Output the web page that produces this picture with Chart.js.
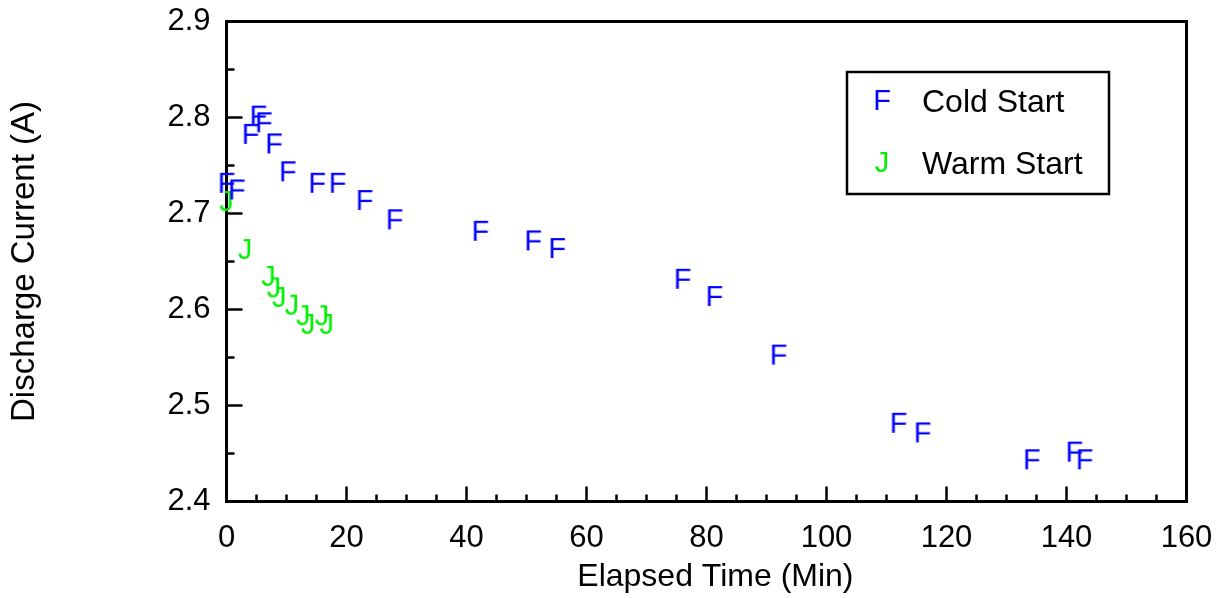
<!DOCTYPE html>
<html>
<head>
<meta charset="utf-8">
<script src="https://cdn.jsdelivr.net/npm/chart.js@4.4.1/dist/chart.umd.min.js"></script>
<style>
  html, body { margin: 0; padding: 0; background: #fff; }
</style>
</head>
<body>
<canvas id="myChart" width="1225" height="598"></canvas>
<script>
// Cold start run: elapsed time (min) / discharge current (A)
var coldTime = [0.0, 1.7, 4.0, 5.3, 6.2, 7.9, 10.2, 15.1, 18.5, 23.0, 28.0, 42.3, 51.1, 55.1, 76.0, 81.3, 92.0, 112.0, 116.0, 134.2, 141.3, 143.0];
var coldCurrent = [2.732, 2.725, 2.783, 2.802, 2.795, 2.773, 2.744, 2.732, 2.732, 2.714, 2.694, 2.682, 2.672, 2.664, 2.632, 2.614, 2.553, 2.482, 2.472, 2.444, 2.452, 2.444];

// Warm start run
var warmTime = [0.0, 3.1, 7.0, 7.9, 8.8, 10.9, 12.8, 13.6, 15.9, 16.7];
var warmCurrent = [2.713, 2.663, 2.635, 2.623, 2.613, 2.605, 2.594, 2.585, 2.594, 2.585];

var xTicks = [0, 20, 40, 60, 80, 100, 120, 140, 160];
var yTicks = [2.4, 2.5, 2.6, 2.7, 2.8, 2.9];

var FONT = '"Liberation Sans", Arial, Helvetica, sans-serif';
Chart.defaults.font.family = FONT;
Chart.defaults.color = '#000';

// letter markers (the plot used a symbol font, so markers show as F and J)
function glyph(ch, color) {
	var c = document.createElement('canvas');
	c.width = 36;
	c.height = 36;
	var g = c.getContext('2d');
	g.font = '29px ' + FONT;
	g.fillStyle = color;
	g.textAlign = 'center';
	g.textBaseline = 'alphabetic';
	g.fillText(ch, 18, 18 + 10.4);
	return c;
}
var coldMark = glyph('F', '#0000ff');
var warmMark = glyph('J', '#00f000');

function toPoints(xs, ys) {
	return xs.map(function(x, i) {
		return { x: x, y: ys[i] };
	});
}

// keep tick labels from pushing the plot area in
function noOverhang(s) {
	s.paddingTop = 0;
	s.paddingBottom = 0;
	s.paddingLeft = 0;
	s.paddingRight = 0;
}

// box round the plot + inward ticks
var framePlugin = {
	id: 'frame',
	beforeDatasetsDraw: function(chart) {
		var ctx = chart.ctx;
		var a = chart.chartArea;
		var xs = chart.scales.x, ys = chart.scales.y;
		ctx.save();
		ctx.strokeStyle = '#000';
		ctx.lineWidth = 2.5;
		ctx.beginPath();
		// y ticks, minor every half step
		for (var i = 0; i < yTicks.length; i++) {
			var py = ys.getPixelForValue(yTicks[i]);
			ctx.moveTo(a.left, py);
			ctx.lineTo(a.left + 16, py);
			if (i < yTicks.length - 1) {
				var my = ys.getPixelForValue((yTicks[i] + yTicks[i + 1]) / 2);
				ctx.moveTo(a.left, my);
				ctx.lineTo(a.left + 8, my);
			}
		}
		// x ticks, minor every quarter step
		for (var j = 0; j < xTicks.length; j++) {
			var px = xs.getPixelForValue(xTicks[j]);
			ctx.moveTo(px, a.bottom);
			ctx.lineTo(px, a.bottom - 15);
			if (j < xTicks.length - 1) {
				var step = (xTicks[j + 1] - xTicks[j]) / 4;
				for (var k = 1; k < 4; k++) {
					var mx = xs.getPixelForValue(xTicks[j] + step * k);
					ctx.moveTo(mx, a.bottom);
					ctx.lineTo(mx, a.bottom - 7);
				}
			}
		}
		ctx.stroke();
		ctx.lineWidth = 3;
		ctx.strokeRect(a.left, a.top, a.right - a.left, a.bottom - a.top);
		ctx.restore();
	}
};

// boxed legend, top right inside the plot
var legendPlugin = {
	id: 'boxLegend',
	afterDraw: function(chart) {
		var ctx = chart.ctx;
		var marks = [coldMark, warmMark];
		var rows = [100, 162];
		ctx.save();
		ctx.strokeStyle = '#000';
		ctx.lineWidth = 2.5;
		ctx.strokeRect(847, 72, 262, 122);
		ctx.font = '32px ' + FONT;
		ctx.fillStyle = '#000';
		ctx.textBaseline = 'alphabetic';
		chart.data.datasets.forEach(function(ds, i) {
			ctx.drawImage(marks[i], 882 - 18, rows[i] - 18);
			ctx.fillText(ds.label, 922, rows[i] + 11.5);
		});
		ctx.restore();
	}
};

var ctx = document.getElementById('myChart').getContext('2d');
var myChart = new Chart(ctx, {
	type: 'scatter',
	data: {
		datasets: [
			{
				label: 'Cold Start',
				data: toPoints(coldTime, coldCurrent),
				pointStyle: coldMark,
				clip: false
			},
			{
				label: 'Warm Start',
				data: toPoints(warmTime, warmCurrent),
				pointStyle: warmMark,
				clip: false
			}
		]
	},
	options: {
		responsive: false,
		animation: false,
		devicePixelRatio: 1,
		layout: {
			padding: { top: 21.5, right: 38.5, left: 0, bottom: 0 }
		},
		plugins: {
			legend: { display: false },
			tooltip: { enabled: false }
		},
		scales: {
			x: {
				type: 'linear',
				min: 0,
				max: 160,
				afterBuildTicks: function(s) {
					s.ticks = xTicks.map(function(v) { return { value: v }; });
				},
				afterFit: function(s) {
					s.height = 96.5;
					noOverhang(s);
				},
				grid: { display: false, drawTicks: false },
				border: { display: false },
				ticks: { padding: 18, font: { size: 31 }, maxRotation: 0, autoSkip: false },
				title: {
					display: true,
					text: '\u00a0\u00a0Elapsed Time (Min)',
					font: { size: 32 },
					padding: { top: 0, bottom: 2 }
				}
			},
			y: {
				min: 2.4,
				max: 2.9,
				afterBuildTicks: function(s) {
					s.ticks = yTicks.map(function(v) { return { value: v }; });
				},
				afterFit: function(s) {
					s.width = 226.5;
					noOverhang(s);
				},
				grid: { display: false, drawTicks: false },
				border: { display: false },
				ticks: {
					padding: 16,
					font: { size: 31 },
					autoSkip: false,
					callback: function(v) { return v.toFixed(1); }
				},
				title: {
					display: true,
					text: 'Discharge Current (A)',
					font: { size: 33 },
					padding: { top: 5, bottom: 0 }
				}
			}
		}
	},
	plugins: [framePlugin, legendPlugin]
});
</script>
</body>
</html>
